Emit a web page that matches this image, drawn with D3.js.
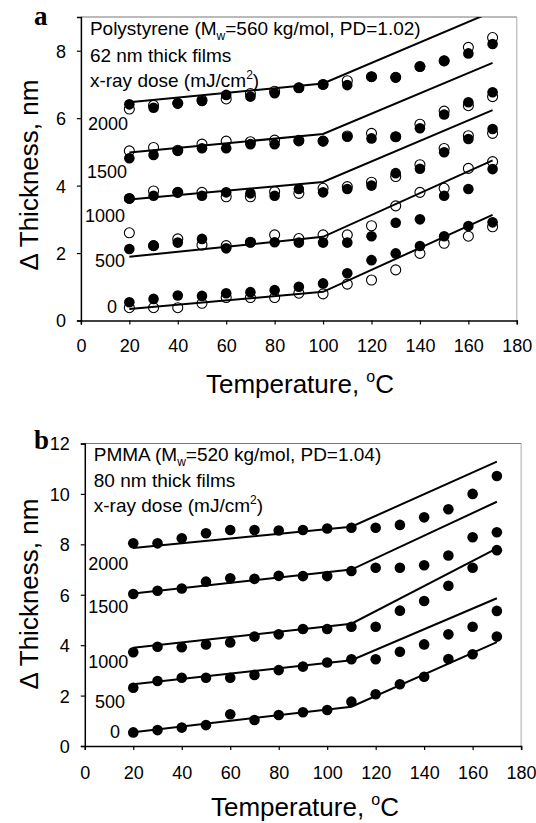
<!DOCTYPE html>
<html><head><meta charset="utf-8">
<script src="https://cdn.jsdelivr.net/npm/d3@7"></script>
<style>
body{margin:0;background:#fff}
svg{display:block}
text{font-family:"Liberation Sans",Arial,Helvetica,sans-serif;fill:#000}
</style>
</head><body>
<svg id="chart" width="536" height="823"></svg>
<script>
// ---------------- DATA ----------------
const temperatures = [20,30,40,50,60,70,80,90,100,110,120,130,140,150,160,170];
const xTickValues = [0,20,40,60,80,100,120,140,160,180];
const psYTickValues = [0,2,4,6,8];
const pmmaYTickValues = [0,2,4,6,8,10,12];
const doseLabels = ["2000","1500","1000","500","0"];

// Panel a: Polystyrene, open and filled circles per x-ray dose
const psOpen2000   = [6.27,6.38,6.44,6.53,6.57,6.73,6.80,6.90,7.00,7.11,7.23,7.21,7.53,7.70,8.10,8.39];
const psFilled2000 = [6.41,6.31,6.44,6.51,6.69,6.64,6.74,6.90,7.00,6.98,7.23,7.21,7.53,7.70,7.92,8.20];
const psOpen1500   = [5.03,5.13,5.05,5.23,5.32,5.30,5.35,5.34,5.32,5.47,5.55,5.45,5.82,6.21,6.37,6.64];
const psFilled1500 = [4.81,4.91,5.03,5.11,5.11,5.23,5.23,5.32,5.32,5.45,5.40,5.45,5.70,6.11,6.47,6.77];
const psOpen1000   = [3.62,3.84,3.80,3.80,3.67,3.67,3.82,3.77,3.92,3.97,4.10,4.27,4.62,5.10,5.48,5.55];
const psFilled1000 = [3.62,3.70,3.80,3.70,3.80,3.77,3.70,3.90,3.80,3.90,4.00,4.37,4.50,4.99,5.38,5.68];
const psOpen500    = [2.60,2.22,2.42,2.24,2.22,2.32,2.54,2.43,2.54,2.54,2.81,3.40,3.80,3.92,4.51,4.71];
const psFilled500  = [2.12,2.22,2.31,2.42,2.14,2.32,2.32,2.31,2.31,2.31,2.50,2.90,3.00,3.70,3.90,4.49];
const psOpen0      = [0.38,0.38,0.38,0.51,0.68,0.68,0.68,0.81,0.79,1.08,1.20,1.50,1.99,2.29,2.50,2.78];
const psFilled0    = [0.54,0.64,0.74,0.73,0.81,0.84,0.90,1.00,1.10,1.40,1.79,1.99,2.21,2.50,2.80,2.91];
const psFitT    = [20,100,170];
const psFit2000 = [6.47,7.03,9.16];
const psFit1500 = [4.98,5.53,7.64];
const psFit1000 = [3.59,4.11,6.24];
const psFit500  = [1.89,2.48,4.75];
const psFit0    = [0.34,0.85,3.13];

// Panel b: PMMA, filled circles per x-ray dose
const pmmaFilled2000 = [8.04,8.04,8.24,8.44,8.57,8.57,8.55,8.57,8.63,8.66,8.66,8.77,9.07,9.39,10.00,10.71];
const pmmaFilled1500 = [6.03,6.16,6.25,6.52,6.65,6.63,6.75,6.74,6.74,6.94,7.07,7.07,7.17,7.56,8.28,8.48];
const pmmaFilled1000 = [3.72,3.94,3.92,4.03,4.11,4.34,4.43,4.64,4.64,4.73,4.73,5.37,5.75,6.36,7.07,7.77];
const pmmaFilled500  = [2.31,2.58,2.71,2.71,2.71,2.82,3.01,3.15,3.31,3.44,3.44,3.74,4.03,4.43,4.73,5.36];
const pmmaFilled0    = [0.54,0.63,0.73,0.83,1.26,1.03,1.23,1.34,1.43,1.76,2.05,2.45,2.75,3.45,3.64,4.34];
const pmmaFitT    = [20,110,170];
const pmmaFit2000 = [7.85,8.70,11.28];
const pmmaFit1500 = [6.05,7.00,9.69];
const pmmaFit1000 = [3.90,4.85,7.84];
const pmmaFit500  = [2.45,3.40,5.86];
const pmmaFit0    = [0.55,1.56,4.12];

// ---------------- DRAWING ----------------
const svg = d3.select("#chart");
const zip = (xs, ys) => xs.map((x, i) => [x, ys[i]]);

function drawPanel(cfg) {
  const x = d3.scaleLinear().domain([0, 180]).range([cfg.left, cfg.right]);
  const y = d3.scaleLinear().domain([0, cfg.yMax]).range([cfg.bottom, cfg.top]);
  const g = svg.append("g");

  // frame (top/right light)
  g.append("line").attr("x1", cfg.left).attr("x2", cfg.right).attr("y1", cfg.top).attr("y2", cfg.top)
    .attr("stroke", "#777").attr("stroke-width", 1);
  g.append("line").attr("x1", cfg.right).attr("x2", cfg.right).attr("y1", cfg.top).attr("y2", cfg.bottom)
    .attr("stroke", "#aaa").attr("stroke-width", 1);

  // axes
  const xAxis = d3.axisBottom(x).tickValues(xTickValues).tickSize(4).tickFormat(d3.format("d"));
  const yAxis = d3.axisLeft(y).tickValues(cfg.yTicks).tickSize(4).tickFormat(d3.format("d"));
  const gx = g.append("g").attr("transform", `translate(0,${cfg.bottom})`).call(xAxis);
  const gy = g.append("g").attr("transform", `translate(${cfg.left},0)`).call(yAxis);
  [gx, gy].forEach(a => {
    a.select(".domain").attr("stroke", "#000").attr("stroke-width", 1.5);
    a.selectAll(".tick line").attr("stroke", "#000").attr("stroke-width", 1.2);
    a.selectAll(".tick text").attr("font-size", 18).attr("font-family", '"Liberation Sans",Arial,sans-serif').attr("fill", "#000");
  });
  gx.selectAll(".tick text").attr("y", cfg.xLabelOffset).attr("dy", 0);
  gy.selectAll(".tick text").attr("x", -15).attr("dy", "0.36em");

  // clip
  const cid = "clip" + cfg.id;
  svg.append("clipPath").attr("id", cid).append("rect")
    .attr("x", cfg.left).attr("y", cfg.top).attr("width", cfg.right - cfg.left).attr("height", cfg.bottom - cfg.top);

  const line = d3.line().x(d => x(d[0])).y(d => y(d[1]));
  const plot = g.append("g").attr("clip-path", `url(#${cid})`);

  cfg.series.forEach(s => {
    if (s.open) {
      plot.append("g").selectAll("circle").data(zip(temperatures, s.open)).join("circle")
        .attr("cx", d => x(d[0])).attr("cy", d => y(d[1])).attr("r", 5)
        .attr("fill", "#fff").attr("stroke", "#000").attr("stroke-width", 1.1);
    }
  });
  cfg.series.forEach(s => {
    plot.append("g").selectAll("circle").data(zip(temperatures, s.filled)).join("circle")
      .attr("cx", d => x(d[0])).attr("cy", d => y(d[1])).attr("r", 5.3)
      .attr("fill", "#000");
    plot.append("path").datum(zip(cfg.fitT, s.fit)).attr("d", line)
      .attr("fill", "none").attr("stroke", "#000").attr("stroke-width", 2);
  });

  // dose labels
  cfg.labelPos.forEach((p, i) => {
    g.append("text").attr("x", p[0]).attr("y", p[1]).attr("text-anchor", "end")
      .attr("font-size", 18).text(doseLabels[i]);
  });

  // annotation
  const ax = cfg.left + 9;
  const t1 = g.append("text").attr("x", ax).attr("y", cfg.annY[0]).attr("font-size", 19);
  t1.append("tspan").text(cfg.title[0]);
  t1.append("tspan").attr("font-size", 12).attr("dy", 5).text("w");
  t1.append("tspan").attr("dy", -5).text(cfg.title[1]);
  g.append("text").attr("x", ax).attr("y", cfg.annY[1]).attr("font-size", 19).text(cfg.title[2]);
  const t3 = g.append("text").attr("x", ax).attr("y", cfg.annY[2]).attr("font-size", 19);
  t3.append("tspan").text("x-ray dose (mJ/cm");
  t3.append("tspan").attr("font-size", 12).attr("dy", -8).text("2");
  t3.append("tspan").attr("dy", 8).text(")");

  // axis titles
  const xt = g.append("text").attr("x", cfg.xTitle[0]).attr("y", cfg.xTitle[1])
    .attr("text-anchor", "middle").attr("font-size", 26);
  xt.append("tspan").text("Temperature, ");
  xt.append("tspan").attr("font-size", 16).attr("dy", -11).text("o");
  xt.append("tspan").attr("dy", 11).text("C");
  g.append("text").attr("transform", `translate(${cfg.yTitle[0]},${cfg.yTitle[1]}) rotate(-90)`)
    .attr("text-anchor", "middle").attr("font-size", 26).text("\u0394 Thickness, nm");

  // panel letter
  g.append("text").attr("x", cfg.letter[0]).attr("y", cfg.letter[1])
    .attr("font-family", '"Liberation Serif","Times New Roman",serif').attr("font-weight", "bold")
    .attr("font-size", 27).style("font-family", '"Liberation Serif","Times New Roman",serif').text(cfg.letter[2]);
}

drawPanel({
  id: "a", left: 80.9, right: 516.8, top: 17.0, bottom: 320.5, yMax: 9, yTicks: psYTickValues,
  xLabelOffset: 31, fitT: psFitT,
  series: [
    {open: psOpen2000, filled: psFilled2000, fit: psFit2000},
    {open: psOpen1500, filled: psFilled1500, fit: psFit1500},
    {open: psOpen1000, filled: psFilled1000, fit: psFit1000},
    {open: psOpen500,  filled: psFilled500,  fit: psFit500},
    {open: psOpen0,    filled: psFilled0,    fit: psFit0}
  ],
  labelPos: [[128,130],[127,178],[125,221.7],[125,266.7],[117,313.3]],
  title: ["Polystyrene (M", "=560 kg/mol, PD=1.02)", "62 nm thick films"],
  annY: [35, 61.5, 87],
  xTitle: [300, 393], yTitle: [38, 175], letter: [34, 25, "a"]
});

drawPanel({
  id: "b", left: 84.8, right: 521.1, top: 443.5, bottom: 746, yMax: 12, yTicks: pmmaYTickValues,
  xLabelOffset: 33, fitT: pmmaFitT,
  series: [
    {filled: pmmaFilled2000, fit: pmmaFit2000},
    {filled: pmmaFilled1500, fit: pmmaFit1500},
    {filled: pmmaFilled1000, fit: pmmaFit1000},
    {filled: pmmaFilled500,  fit: pmmaFit500},
    {filled: pmmaFilled0,    fit: pmmaFit0}
  ],
  labelPos: [[128.3,570],[128.3,613.3],[128.3,667.7],[125,707.7],[120,738.3]],
  title: ["PMMA (M", "=520 kg/mol, PD=1.04)", "80 nm thick films"],
  annY: [461, 486.5, 512],
  xTitle: [305, 816], yTitle: [38, 594], letter: [34, 449, "b"]
});
</script>
</body></html>
